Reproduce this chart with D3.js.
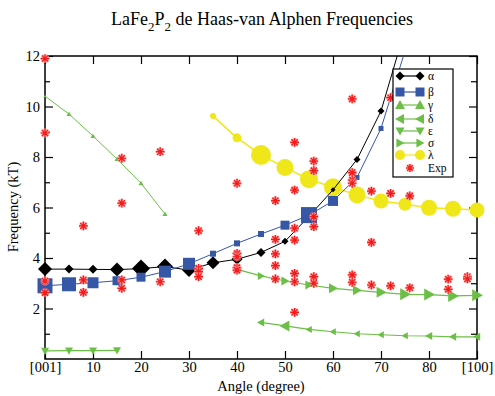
<!DOCTYPE html>
<html>
<head>
<meta charset="utf-8">
<script src="https://cdn.jsdelivr.net/npm/d3@7"></script>
<style>
body { margin: 0; background: #fff; }
text { font-family: "Liberation Serif", "Times New Roman", serif; fill: #000; }
</style>
</head>
<body>
<div id="chart"></div>
<script>
// valeurs (angle en degres, frequence en kT)
var alphaX = [0, 5, 10, 15, 20, 25, 30, 35, 40, 45, 50, 55, 60, 65, 70, 75];
var alphaY = [3.56, 3.56, 3.55, 3.54, 3.58, 3.66, 3.52, 3.81, 3.95, 4.22, 4.66, 5.65, 6.7, 7.9, 9.82, 13.05];
var alphaS = [14, 9, 9, 14, 18, 16, 14, 13, 11, 9, 7, 6, 5, 7, 7, 7];

var betaX = [0, 5, 10, 15, 20, 25, 30, 35, 40, 45, 50, 55, 60, 65, 70, 75];
var betaY = [2.9, 2.96, 3.02, 3.1, 3.24, 3.46, 3.77, 4.17, 4.58, 4.95, 5.3, 5.7, 6.26, 7.19, 9.13, 12.2];
var betaS = [15, 14, 11, 9, 9, 12, 12, 6, 6, 6, 9, 16, 10, 5, 5, 5];

var gammaX = [0, 5, 10, 15, 20, 25];
var gammaY = [10.41, 9.7, 8.83, 7.92, 6.96, 5.74];
var gammaS = [3, 5, 5, 5, 5, 5];

var deltaX = [45, 50, 55, 60, 65, 70, 75, 80, 85, 90];
var deltaY = [1.45, 1.31, 1.17, 1.08, 1.0, 0.96, 0.92, 0.91, 0.88, 0.88];
var deltaS = [8, 11, 7, 7, 7, 7, 7, 8, 8, 8];

var epsX = [0, 5, 10, 15];
var epsY = [0.32, 0.33, 0.33, 0.34];
var epsS = [8, 8, 8, 8];

var sigmaX = [40, 45, 50, 55, 60, 65, 70, 75, 80, 85, 90];
var sigmaY = [3.55, 3.29, 3.09, 2.93, 2.8, 2.72, 2.64, 2.56, 2.55, 2.5, 2.52];
var sigmaS = [4, 8, 9, 9, 10, 10, 11, 12, 12, 12, 12];

var lambdaX = [35, 40, 45, 50, 55, 60, 65, 70, 75, 80, 85, 90];
var lambdaY = [9.62, 8.76, 8.08, 7.58, 7.12, 6.8, 6.5, 6.26, 6.13, 5.99, 5.95, 5.9];
var lambdaR = [3, 4.5, 10, 8.5, 9, 9, 8.5, 7.5, 6.5, 8, 8, 7.5];

var expX = [0, 0, 0, 0, 8, 8, 8, 16, 16, 16, 16, 24, 24,
    32, 32, 32, 32, 40, 40, 40, 40, 40, 48, 48, 48, 48, 48,
    52, 52, 52, 52, 52, 52, 52, 56, 56, 56, 56, 56, 56,
    64, 64, 64, 64, 64, 64, 68, 68, 68, 72, 72, 72, 76, 76, 84, 84, 88, 88];
var expY = [11.9, 8.95, 3.09, 2.63, 5.27, 3.13, 2.64, 7.95, 6.17, 3.13, 2.8, 8.21, 3.06,
    5.08, 3.59, 3.46, 3.26, 6.96, 4.18, 4.05, 3.62, 3.52, 6.27, 4.74, 4.16, 3.7, 3.17,
    8.58, 6.69, 5.18, 4.71, 3.39, 3.06, 1.85, 7.84, 7.46, 5.64, 5.24, 3.26, 3.0,
    10.3, 7.38, 7.09, 6.96, 3.33, 3.04, 6.65, 4.62, 2.93, 10.35, 6.56, 2.9, 6.46, 2.82, 3.16, 2.76, 3.26, 3.17];

var xTickValues = [0, 10, 20, 30, 40, 50, 60, 70, 80, 90];
var xTickLabels = ["[001]", "10", "20", "30", "40", "50", "60", "70", "80", "[100]"];
var yMajor = [2, 4, 6, 8, 10, 12];
var yMinor = [1, 3, 5, 7, 9, 11];

var legendNames = ["\u03b1", "\u03b2", "\u03b3", "\u03b4", "\u03b5", "\u03c3", "\u03bb", "Exp"];

var noir = "#000000", bleu = "#3656a6", vert = "#6cbf46", jaune = "#f0e71a", rouge = "#f21c1c";

var largeur = 495, hauteur = 396;
var svg = d3.select("#chart").append("svg").attr("width", largeur).attr("height", hauteur);

var x = d3.scaleLinear().domain([0, 90]).range([45, 477]);
var y = d3.scaleLinear().domain([0, 12]).range([359, 56]);

// formes des marqueurs, s = largeur totale
function forme(type, s) {
    var h = s / 2;
    if (type == "diamond") return "M0," + (-h) + "L" + h + ",0L0," + h + "L" + (-h) + ",0Z";
    if (type == "square") return "M" + (-h) + "," + (-h) + "h" + s + "v" + s + "h" + (-s) + "Z";
    if (type == "up") return "M" + (-h) + "," + (h * 0.8) + "L" + h + "," + (h * 0.8) + "L0," + (-h) + "Z";
    if (type == "down") return "M" + (-h) + "," + (-h * 0.8) + "L" + h + "," + (-h * 0.8) + "L0," + h + "Z";
    if (type == "left") return "M" + (h * 0.8) + "," + (-h) + "L" + (h * 0.8) + "," + h + "L" + (-h) + ",0Z";
    if (type == "right") return "M" + (-h * 0.8) + "," + (-h) + "L" + (-h * 0.8) + "," + h + "L" + h + ",0Z";
    return "";
}

function asterisque(g, cx, cy, r) {
    var d = "";
    for (var i = 0; i < 4; i++) {
        var a = i * Math.PI / 4;
        var dx = Math.cos(a) * r, dy = Math.sin(a) * r;
        d += "M" + (cx - dx) + "," + (cy - dy) + "L" + (cx + dx) + "," + (cy + dy);
    }
    g.append("path").attr("d", d).attr("stroke", "#ff9a9a").attr("stroke-width", 2.6).attr("fill", "none");
    g.append("path").attr("d", d).attr("stroke", rouge).attr("stroke-width", 1.2).attr("fill", "none");
    g.append("circle").attr("cx", cx).attr("cy", cy).attr("r", 1.6).attr("fill", rouge);
}

svg.append("clipPath").attr("id", "zone")
    .append("rect").attr("x", 45).attr("y", 56).attr("width", 432).attr("height", 303);

// axes (traits vers l'interieur)
svg.append("g").attr("transform", "translate(0,359)")
    .call(d3.axisBottom(x).tickValues(xTickValues).tickSize(-8).tickPadding(3)
        .tickFormat(function(d, i) { return xTickLabels[i]; }));
svg.append("g").attr("transform", "translate(0,56)")
    .call(d3.axisTop(x).tickValues(xTickValues).tickSize(-8).tickFormat(""));
svg.append("g").attr("transform", "translate(45,0)")
    .call(d3.axisLeft(y).tickValues(yMajor).tickSize(-8).tickPadding(5).tickFormat(d3.format("d")));
svg.append("g").attr("transform", "translate(45,0)")
    .call(d3.axisLeft(y).tickValues(yMinor).tickSize(-5).tickFormat(""));
svg.append("g").attr("transform", "translate(477,0)")
    .call(d3.axisRight(y).tickValues(yMajor).tickSize(-8).tickFormat(""));
svg.append("g").attr("transform", "translate(477,0)")
    .call(d3.axisRight(y).tickValues(yMinor).tickSize(-6).tickFormat(""));

svg.selectAll(".domain").remove();
svg.selectAll(".tick line").attr("stroke", "#000").attr("stroke-width", 1.2);
svg.selectAll(".tick text").style("font-family", "'Liberation Serif', serif").style("font-size", "14.5px").attr("fill", "#000");

svg.append("rect").attr("x", 45).attr("y", 56).attr("width", 432).attr("height", 303)
    .attr("fill", "none").attr("stroke", "#000").attr("stroke-width", 1.5);

var ligne = d3.line().x(function(d) { return x(d[0]); }).y(function(d) { return y(d[1]); });

function serie(xs, ys, tailles, type, couleur, epais) {
    var pts = xs.map(function(v, i) { return [v, ys[i], tailles[i]]; });
    svg.append("path").datum(pts).attr("d", ligne)
        .attr("clip-path", "url(#zone)")
        .attr("fill", "none").attr("stroke", couleur).attr("stroke-width", epais);
    svg.append("g").selectAll("path").data(pts.filter(function(p) { return p[1] <= 12; }))
        .enter().append("path")
        .attr("transform", function(p) { return "translate(" + x(p[0]) + "," + y(p[1]) + ")"; })
        .attr("d", function(p) { return forme(type, p[2]); })
        .attr("fill", couleur);
}

serie(gammaX, gammaY, gammaS, "up", vert, 1);
serie(deltaX, deltaY, deltaS, "left", vert, 1.2);
serie(epsX, epsY, epsS, "down", vert, 1.2);
serie(sigmaX, sigmaY, sigmaS, "right", vert, 1.2);

var ptsL = lambdaX.map(function(v, i) { return [v, lambdaY[i], lambdaR[i]]; });
svg.append("path").datum(ptsL).attr("d", ligne).attr("fill", "none").attr("stroke", jaune).attr("stroke-width", 1.5);
svg.append("g").selectAll("circle").data(ptsL).enter().append("circle")
    .attr("cx", function(p) { return x(p[0]); })
    .attr("cy", function(p) { return y(p[1]); })
    .attr("r", function(p) { return p[2]; })
    .attr("fill", jaune);

serie(alphaX, alphaY, alphaS, "diamond", noir, 1);
serie(betaX, betaY, betaS, "square", bleu, 1);

var gExp = svg.append("g");
for (var i = 0; i < expX.length; i++) {
    asterisque(gExp, x(expX[i]), y(expY[i]), 4.4);
}

// legende
var leg = svg.append("g");
leg.append("rect").attr("x", 393).attr("y", 69).attr("width", 60).attr("height", 108)
    .attr("fill", "#fff").attr("stroke", "#000").attr("stroke-width", 1.2);
var legY = [76, 92, 105, 119, 131, 143, 155, 168];
var legTypes = ["diamond", "square", "up", "left", "down", "right", "circle", "exp"];
var legCouleurs = [noir, bleu, vert, vert, vert, vert, jaune, rouge];
var legTailles = [9, 9, 10, 10, 9, 9, 10, 0];
for (var k = 0; k < legendNames.length; k++) {
    var yy = legY[k];
    if (legTypes[k] == "exp") {
        asterisque(leg, 410, yy, 4);
    } else {
        leg.append("line").attr("x1", 400).attr("x2", 420).attr("y1", yy).attr("y2", yy)
            .attr("stroke", legCouleurs[k]).attr("stroke-width", 1.2);
        [400, 420].forEach(function(cx) {
            if (legTypes[k] == "circle") {
                leg.append("circle").attr("cx", cx).attr("cy", yy).attr("r", 5).attr("fill", legCouleurs[k]);
            } else {
                leg.append("path").attr("transform", "translate(" + cx + "," + yy + ")")
                    .attr("d", forme(legTypes[k], legTailles[k])).attr("fill", legCouleurs[k]);
            }
        });
    }
    leg.append("text").attr("x", 428).attr("y", yy + 4).style("font-size", "11.5px").text(legendNames[k]);
}

// titres
var titre = svg.append("text").attr("x", 262).attr("y", 25).attr("text-anchor", "middle").style("font-size", "18px");
titre.append("tspan").text("LaFe");
titre.append("tspan").attr("dy", 6).style("font-size", "13px").text("2");
titre.append("tspan").attr("dy", -6).text("P");
titre.append("tspan").attr("dy", 6).style("font-size", "13px").text("2");
titre.append("tspan").attr("dy", -6).text(" de Haas-van Alphen Frequencies");

svg.append("text").attr("x", 261).attr("y", 391).attr("text-anchor", "middle").style("font-size", "14.5px").text("Angle (degree)");
svg.append("text").attr("transform", "translate(18,207) rotate(-90)").attr("text-anchor", "middle").style("font-size", "14.5px").text("Frequency (kT)");
</script>
</body>
</html>
